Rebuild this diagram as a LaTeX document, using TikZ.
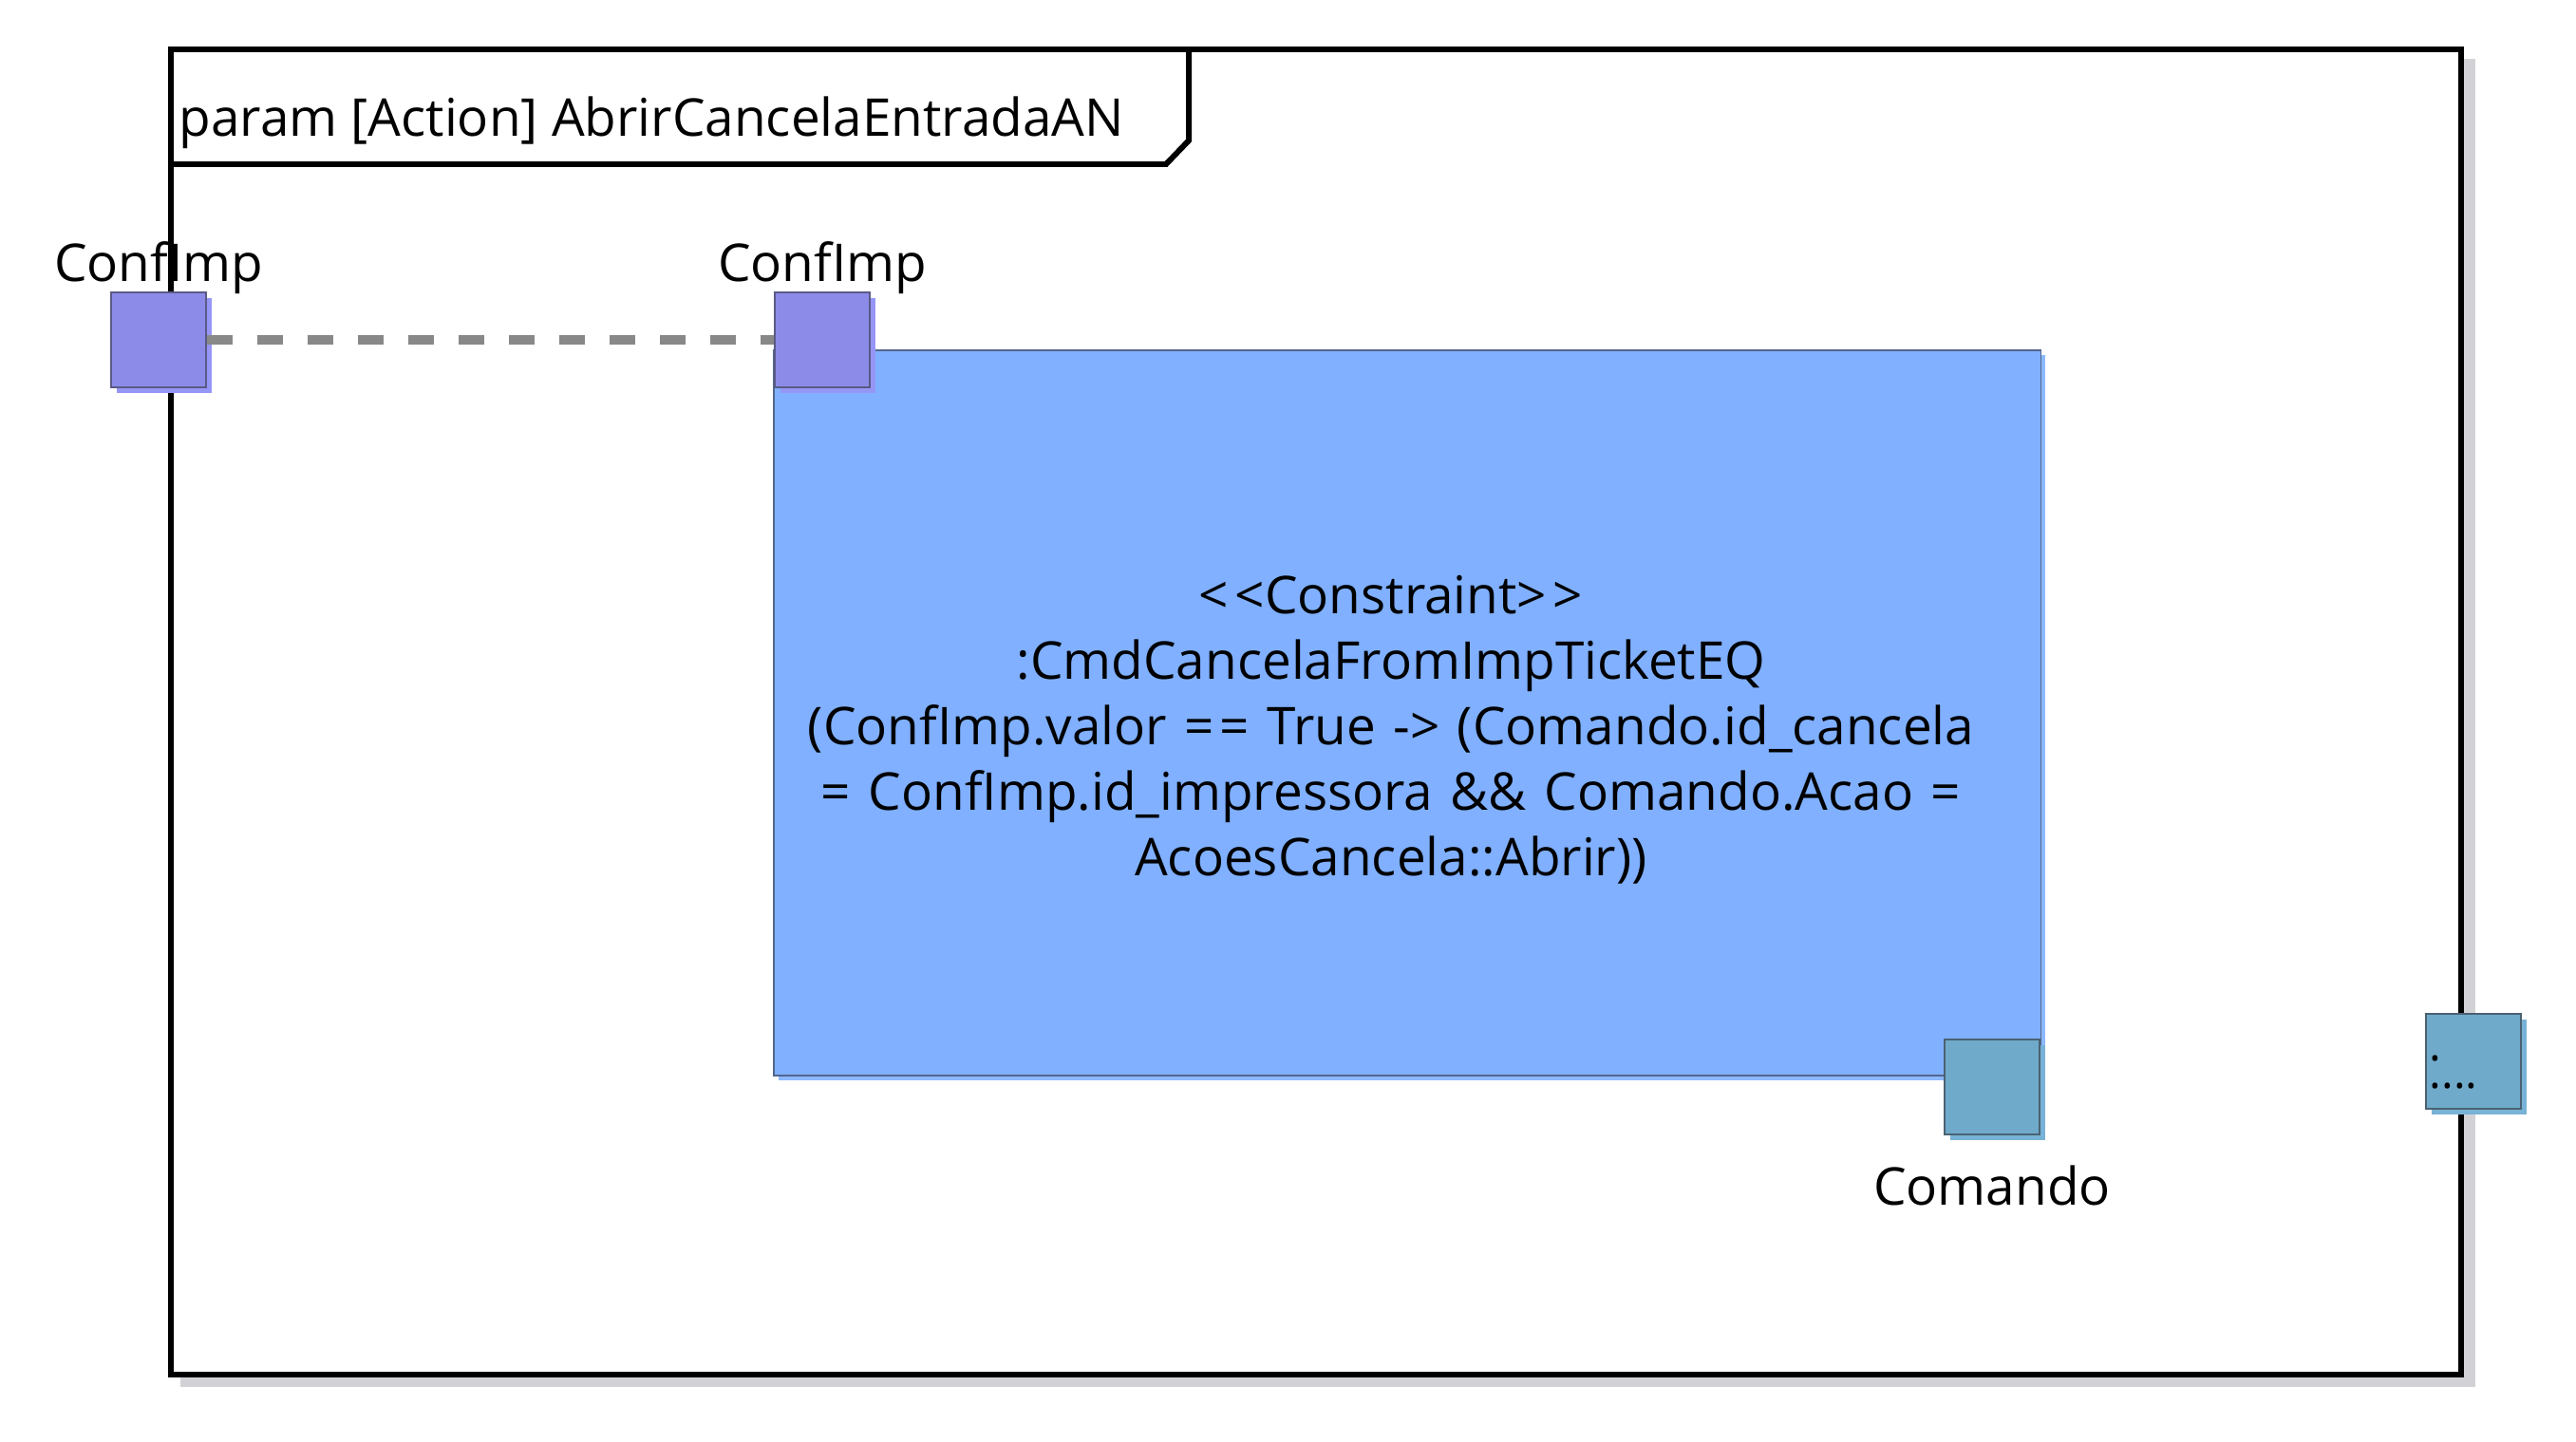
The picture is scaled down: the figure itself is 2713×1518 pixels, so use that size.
\documentclass[tikz,border=0pt]{standalone}
\usepackage{fontspec}
\setmainfont{Open Sans}
\newfontfamily\exprfont[WordSpace=1.3]{Open Sans}
\usetikzlibrary{positioning,calc,shadows}

\definecolor{portviolet}{HTML}{8C8CE8}
\definecolor{portvioletsh}{HTML}{9696F6}
\definecolor{portvioletdr}{HTML}{5A5A86}
\definecolor{portteal}{HTML}{70AACA}
\definecolor{porttealsh}{HTML}{78B2D6}
\definecolor{porttealdr}{HTML}{4A6272}
\definecolor{blockblue}{HTML}{80B0FF}
\definecolor{blockbluesh}{HTML}{8CB8FF}
\definecolor{blockbluedr}{HTML}{52668E}
\definecolor{linkgray}{HTML}{888888}
\definecolor{framesh}{HTML}{D2D2D6}

\begin{document}
\begin{tikzpicture}[x=0.01cm, y=0.01cm,
  txt/.style={font=\fontsize{15.6pt}{19.6pt}\selectfont, inner sep=0pt},
  frame/.style={line width=1.7pt, line join=miter},
  portin/.style={draw=portvioletdr, fill=portviolet, line width=0.5pt, minimum size=1cm, inner sep=0pt,
    general shadow={fill=portvioletsh, shadow xshift=0.06cm, shadow yshift=-0.06cm}},
  portout/.style={draw=porttealdr, fill=portteal, line width=0.5pt, minimum size=1cm, inner sep=0pt,
    general shadow={fill=porttealsh, shadow xshift=0.06cm, shadow yshift=-0.06cm}},
  block/.style={draw=blockbluedr, fill=blockblue, line width=0.5pt, minimum width=13.34cm, minimum height=7.63cm, inner sep=0pt,
    general shadow={fill=blockbluesh, shadow xshift=0.05cm, shadow yshift=-0.05cm}},
  link/.style={linkgray, line width=3.1pt, dash pattern=on 0.27cm off 0.26cm}
]
\useasboundingbox (0,0) rectangle (2713,-1518);

% diagram frame
\fill[framesh] (190,-62) rectangle (2607,-1461);
\filldraw[frame, fill=white] (180,-52) rectangle (2592,-1448);
\draw[frame] (180,-173) -- (1228,-173) -- (1252,-148) -- (1252,-52);
\node[txt, anchor=base west] (title) at (188,-143) {param [Action] AbrirCancelaEntradaAN};

% constraint block
\node[block] (constraint) at (1482,-751) {};
\node[txt, align=center, font=\exprfont\fontsize{15.6pt}{19.6pt}\selectfont] (expr) at ($(constraint.center)+(-17,-18)$)
  {<\kern0.12em<Constraint>\kern0.12em>\\
   :CmdCancelaFromImpTicketEQ\\
   (ConfImp.valor =\kern0.1em= True -> (Comando.id\_cancela\\
   = ConfImp.id\_impressora \&\& Comando.Acao =\\
   AcoesCancela::Abrir))};

% ports
\node[portin] (confimpOut) at (167,-358) {};
\node[portin] (confimpIn) at (866,-358) {};
\node[portout] (comando) at (2098,-1145) {};
\node[portout] (outer) at (2605,-1118) {};

\node[txt, above=-3 of confimpOut] {ConfImp};
\node[txt, above=-3 of confimpIn] {ConfImp};
\node[txt, below=31 of comando] {Comando};
\node[font=\fontsize{13.6pt}{8.3pt}\selectfont, inner sep=0pt, align=left, anchor=north west] (dots) at (2558,-1111) {.\\....};

\draw[link] (confimpOut) -- (confimpIn);
\end{tikzpicture}
\end{document}
